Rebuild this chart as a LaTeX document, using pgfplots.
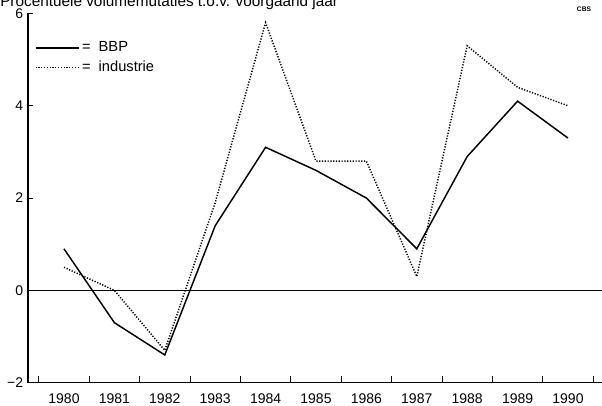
\documentclass[border=0pt]{standalone}
\usepackage{fontspec}
\setmainfont{Liberation Sans}
\usepackage{pgfplots}
\pgfplotsset{compat=1.18}
\begin{document}
\begin{tikzpicture}[x=0.75pt,y=0.75pt]
\begin{axis}[
  at={(21pt,17.5pt)}, anchor=south west,
  scale only axis, width=430.5pt, height=276.9pt,
  xmin=1979.286, xmax=1990.675, ymin=-2, ymax=6,
  axis x line=bottom, axis y line=left,
  x axis line style={-, line width=0.9pt},
  y axis line style={-, line width=1.3pt},
  tick align=inside,
  xtick={1980,1981,1982,1983,1984,1985,1986,1987,1988,1989,1990},
  xticklabels={1980,1981,1982,1983,1984,1985,1986,1987,1988,1989,1990},
  major x tick style={draw=none},
  minor xtick={1979.5,1980.5,1981.5,1982.5,1983.5,1984.5,1985.5,1986.5,1987.5,1988.5,1989.5,1990.5},
  minor x tick style={black, line width=0.7pt},
  minor tick length=5pt,
  ytick={-2,0,2,4,6},
  yticklabels={−2,0,2,4,6},
  major tick length=4pt,
  y tick style={black, line width=0.7pt},
  tick label style={font=\fontsize{10.5}{12}\selectfont},
  xticklabel style={yshift=-4.5pt},
  yticklabel style={inner sep=1pt, xshift=-2.5pt},
  legend style={draw=none, fill=none, at={(axis description cs:0,1)}, anchor=north west,
    xshift=2pt, yshift=-17pt, font=\fontsize{11}{13}\selectfont, row sep=1.5pt},
  legend cell align=left,
  legend image code/.code={\draw[#1] (0pt,0pt) -- (32.25pt,0pt);},
  clip=false,
]
\addplot[black, line width=0.6pt, forget plot] coordinates {(1979.286,0) (1990.675,0)};
\addplot[black, line width=1.1pt, mark=none] coordinates {
(1980,0.9) (1981,-0.7) (1982,-1.4) (1983,1.4) (1984,3.1) (1985,2.6)
(1986,2.0) (1987,0.9) (1988,2.9) (1989,4.1) (1990,3.3)};
\addplot[black, line width=1.1pt, dash pattern=on 0.9pt off 1.2pt, mark=none] coordinates {
(1980,0.5) (1981,0.0) (1982,-1.3) (1983,1.9) (1984,5.8) (1985,2.8)
(1986,2.8) (1987,0.3) (1988,5.3) (1989,4.4) (1990,4.0)};
\legend{=\hspace{3pt} BBP, =\hspace{3pt} industrie}
\end{axis}
\node[anchor=base west, inner sep=0, font=\fontsize{11.5}{13}\selectfont] at (0,399.5) {Procentuele volumemutaties t.o.v. voorgaand jaar};
\node[anchor=center, inner sep=0, font=\fontsize{5}{6}\selectfont\bfseries] at (584,397) {CBS};
\pgfresetboundingbox
\path[use as bounding box] (0,0) rectangle (602,406);
\end{tikzpicture}
\end{document}
